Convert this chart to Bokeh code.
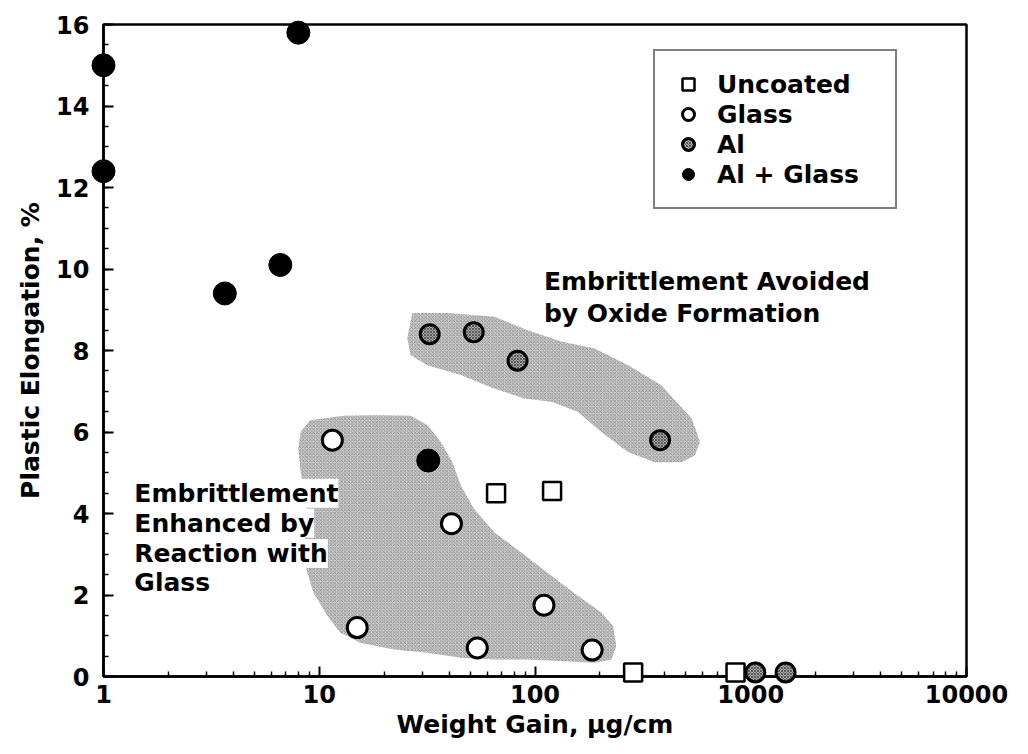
from bokeh.plotting import figure
from bokeh.models import (Range1d, FixedTicker, SingleIntervalTicker, PrintfTickFormatter,
                          Legend, LegendItem, Label)
from bokeh.embed import file_html
from bokeh.resources import INLINE

# ---------------- data ----------------
uncoated_x = [66, 120, 285, 850]
uncoated_y = [4.5, 4.55, 0.1, 0.1]

glass_x = [11.5, 41, 110, 15, 54, 184]
glass_y = [5.8, 3.75, 1.75, 1.2, 0.7, 0.65]

al_x = [32.5, 52, 83, 380, 1050, 1450]
al_y = [8.4, 8.45, 7.75, 5.8, 0.1, 0.1]

alglass_x = [1, 1, 8, 3.65, 6.6, 32]
alglass_y = [15.0, 12.4, 15.8, 9.4, 10.1, 5.3]

# shaded regions (data coordinates)
oxide_x = [27.0, 39.3, 64.7, 92.5, 132, 189, 270, 385, 532, 581, 551, 478, 359, 270, 203,
           158, 119, 89, 64.7, 45.3, 31.7, 26.5, 25.6]
oxide_y = [8.92, 8.92, 8.83, 8.5, 8.22, 8.05, 7.64, 7.15, 6.33, 5.76, 5.43, 5.26, 5.26, 5.51,
           6.0, 6.5, 6.74, 6.82, 7.07, 7.4, 7.64, 7.89, 8.3]

react_x = [9.08, 13.0, 18.5, 26.5, 31.7, 36.5, 41.4, 45.3, 52.2, 64.7, 86, 119, 158, 203, 230,
           238, 226, 189, 132, 92.5, 64.7, 45.3, 31.7, 22.2, 15.5, 12.5, 10.9, 9.4, 8.8, 8.5,
           8.6, 8.8, 8.5, 8.2, 8.0, 8.2]
react_y = [6.29, 6.40, 6.41, 6.40, 6.17, 5.76, 5.26, 4.69, 4.11, 3.54, 3.05, 2.47, 1.98, 1.57,
           1.24, 0.75, 0.42, 0.34, 0.38, 0.42, 0.42, 0.46, 0.58, 0.66, 0.83, 1.08, 1.49, 2.06,
           2.55, 3.05, 3.54, 4.03, 4.52, 5.02, 5.59, 6.0]

x_ticks = [1, 10, 100, 1000, 10000]
legend_labels = ["Uncoated", "Glass", "Al", "Al + Glass"]

note_oxide = "Embrittlement Avoided\nby Oxide Formation"
note_oxide_pos = (110, 9.3)
note_react = ["Embrittlement", "Enhanced by", "Reaction with", "Glass"]
note_react_pos = (1.39, [4.5, 3.76, 3.02, 2.3])

FONT = "DejaVu Sans"

# ---------------- figure ----------------
p = figure(frame_width=863, frame_height=652, x_axis_type="log",
           x_range=Range1d(1, 10000), y_range=Range1d(0, 16),
           output_backend="svg", toolbar_location=None,
           min_border_left=103, min_border_right=54, min_border_top=24, min_border_bottom=70,
           background_fill_color="white", border_fill_color="white")

p.grid.visible = False
p.outline_line_color = "black"
p.outline_line_width = 2.5

minor = [d * k for d in x_ticks[:-1] for k in range(2, 10)]
p.xaxis.ticker = FixedTicker(ticks=x_ticks, minor_ticks=minor)
p.xaxis.formatter = PrintfTickFormatter(format="%d")
p.yaxis.ticker = SingleIntervalTicker(interval=2, num_minor_ticks=4)

for ax in (p.xaxis[0], p.yaxis[0]):
    ax.axis_line_width = 2.5
    ax.axis_line_color = "black"
    ax.major_tick_in = 10
    ax.major_tick_out = 0
    ax.minor_tick_in = 5
    ax.minor_tick_out = 0
    ax.major_tick_line_width = 2
    ax.minor_tick_line_width = 1.5
    ax.major_label_text_font = FONT
    ax.major_label_text_font_style = "bold"
    ax.major_label_text_font_size = "24px"
    ax.major_label_text_color = "black"
    ax.axis_label_text_font = FONT
    ax.axis_label_text_font_style = "bold"
    ax.axis_label_text_font_size = "25px"
    ax.axis_label_text_color = "black"

p.xaxis.major_label_standoff = 8
p.xaxis.axis_label_standoff = 4
p.yaxis.major_label_standoff = 14
p.yaxis.axis_label_standoff = 8
p.xaxis.axis_label = "Weight Gain, µg/cm"
p.yaxis.axis_label = "Plastic Elongation, %"

# shaded regions
for xs, ys in ((oxide_x, oxide_y), (react_x, react_y)):
    p.patch(xs, ys, fill_color="#cfcfcf", line_color=None,
            hatch_pattern="diagonal_cross", hatch_scale=3.5, hatch_color="#6e6e6e",
            hatch_weight=0.8, hatch_alpha=0.75)

# annotations
p.add_layout(Label(x=note_oxide_pos[0], y=note_oxide_pos[1], text=note_oxide,
                   text_font=FONT, text_font_style="bold", text_font_size="25px",
                   text_baseline="middle", text_line_height=1.1, text_color="black"))
for txt, yy in zip(note_react, note_react_pos[1]):
    p.add_layout(Label(x=note_react_pos[0], y=yy, text=txt,
                       text_font=FONT, text_font_style="bold", text_font_size="25px",
                       text_baseline="middle", text_color="black",
                       background_fill_color="white"))

# markers
r_al = p.scatter(al_x, al_y, marker="circle", size=19, fill_color="#a9a9a9",
                 hatch_pattern="diagonal_cross", hatch_scale=3, hatch_color="#444444",
                 hatch_weight=0.8, line_color="black", line_width=3, level="overlay")
r_unc = p.scatter(uncoated_x, uncoated_y, marker="square", size=18, fill_color="white",
                  line_color="black", line_width=2.5, level="overlay")
r_gl = p.scatter(glass_x, glass_y, marker="circle", size=20, fill_color="white",
                 line_color="black", line_width=3, level="overlay")
r_ag = p.scatter(alglass_x, alglass_y, marker="circle", size=23, fill_color="black",
                 line_color="black", line_width=1, level="overlay")

legend = Legend(items=[LegendItem(label=legend_labels[0], renderers=[r_unc]),
                       LegendItem(label=legend_labels[1], renderers=[r_gl]),
                       LegendItem(label=legend_labels[2], renderers=[r_al]),
                       LegendItem(label=legend_labels[3], renderers=[r_ag])],
                location=(550, 467), padding=18, spacing=0,
                glyph_width=30, glyph_height=30, label_height=29, label_width=160,
                label_standoff=14, label_text_font=FONT, label_text_font_style="bold",
                label_text_font_size="25px", label_text_color="black",
                border_line_color="black", border_line_width=2.5,
                background_fill_color="white", background_fill_alpha=1)
p.add_layout(legend)

open("out.html", "w").write(file_html(p, INLINE))
